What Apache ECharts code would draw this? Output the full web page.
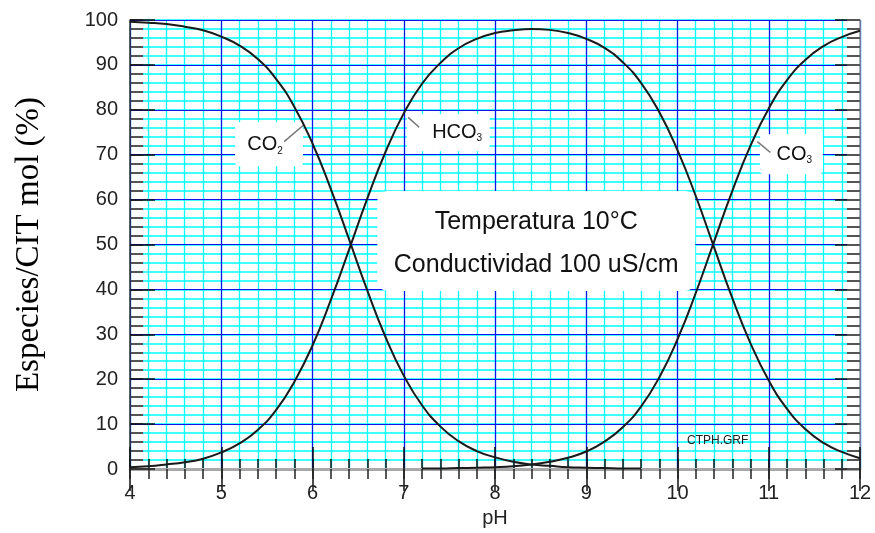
<!DOCTYPE html>
<html>
<head>
<meta charset="utf-8">
<script src="https://cdn.jsdelivr.net/npm/echarts@6/dist/echarts.min.js"></script>
<style>
html,body{margin:0;padding:0;background:#fff;}
#c{width:875px;height:533px;}
</style>
</head>
<body>
<div id="c"></div>
<script>
// pH values (x)
var pH = [4.0,4.2,4.4,4.6,4.8,5.0,5.2,5.4,5.6,5.8,6.0,6.2,6.4,6.6,6.8,7.0,7.2,7.4,7.6,7.8,8.0,8.2,8.4,8.6,8.8,9.0,9.2,9.4,9.6,9.8,10.0,10.2,10.4,10.6,10.8,11.0,11.2,11.4,11.6,11.8,12.0];
// species percentages (null = not drawn)
var co2  = [99.6,99.4,99.1,98.5,97.7,96.3,94.3,91.3,86.9,80.7,72.5,62.4,51.2,39.8,29.4,20.8,14.2,9.5,6.2,4.0,2.6,1.6,1.0,0.7,0.4,0.3,0.2,0.1,0.1,null,null,null,null,null,null,null,null,null,null,null,null];
var hco3 = [0.4,0.6,1.0,1.5,2.3,3.7,5.7,8.7,13.1,19.4,27.5,37.6,48.8,60.2,70.6,79.2,85.8,90.4,93.7,95.8,97.1,97.7,98.0,97.8,97.1,95.8,93.8,90.6,86.0,79.5,71.0,60.8,49.4,38.1,28.0,19.7,13.4,8.9,5.8,3.8,2.4];
var co3  = [null,null,null,null,null,null,null,null,null,null,null,null,null,null,null,null,0.1,0.1,0.2,0.3,0.4,0.6,1.0,1.6,2.5,3.9,6.1,9.3,13.9,20.4,28.9,39.2,50.6,61.9,72.0,80.3,86.6,91.1,94.2,96.2,97.6];
// axis ticks
var xTicks = [4,5,6,7,8,9,10,11,12];
var yTicks = [0,10,20,30,40,50,60,70,80,90,100];
var xMinorStep = 0.2, yMinorStep = 2;
// texts
var xName = 'pH';
var yName = 'Especies/CIT mol (%)';
var infoLines = ['Temperatura 10°C', 'Conductividad 100 uS/cm'];
var fileTag = 'CTPH.GRF';

function pairs(xs, ys){ return xs.map(function(x,i){ return [x, ys[i]]; }); }

var chart = echarts.init(document.getElementById('c'), null, {renderer:'canvas'});

var sans = '"Liberation Sans", Arial, sans-serif';
var xMin = xTicks[0], xMax = xTicks[xTicks.length-1];
var yMin = yTicks[0], yMax = yTicks[yTicks.length-1];

function xAx(o){
  return Object.assign({type:'value', min:xMin, max:xMax, axisLabel:{show:false}, splitLine:{show:false}, axisLine:{show:false}}, o);
}
function yAx(o){
  return Object.assign({type:'value', min:yMin, max:yMax, axisLabel:{show:false}, splitLine:{show:false}, axisLine:{show:false}}, o);
}

var opt = {
  animation:false,
  backgroundColor:'#fff',
  grid:{left:130, right:15, top:20, bottom:62},
  xAxis:[
    xAx({position:'bottom', interval:1, z:2,
      name:xName, nameLocation:'middle', nameGap:39,
      nameTextStyle:{fontFamily:sans, fontSize:20, color:'#222'},
      axisLine:{show:true, lineStyle:{color:'#888', width:2.5}},
      axisTick:{show:true, inside:true, length:22, lineStyle:{color:'#111', width:1.5}},
      axisLabel:{show:true, fontFamily:sans, fontSize:20, color:'#222', margin:14},
      splitLine:{show:true, lineStyle:{color:'#1010f0', width:1.2}}}),
    xAx({position:'bottom', interval:xMinorStep, z:1,
      axisTick:{show:true, inside:true, length:10, lineStyle:{color:'#111', width:1.5}},
      splitLine:{show:true, lineStyle:{color:'#00ffff', width:1.3}}}),
    xAx({position:'top', interval:1, z:2,
      axisLine:{show:true, lineStyle:{color:'#aaa', width:2}},
      axisTick:{show:true, inside:true, length:22, lineStyle:{color:'#111', width:1.5}}}),
    xAx({position:'top', interval:xMinorStep, z:2,
      axisTick:{show:true, inside:true, length:10, lineStyle:{color:'#222', width:1.5}}})
  ],
  yAxis:[
    yAx({position:'left', interval:10, z:2,
      name:yName, nameLocation:'middle', nameGap:84,
      nameTextStyle:{fontFamily:'"Liberation Serif","Times New Roman",serif', fontSize:33, color:'#000'},
      axisLine:{show:true, lineStyle:{color:'#333', width:1.5}},
      axisTick:{show:true, inside:true, length:25, lineStyle:{color:'#111', width:1.5}},
      axisLabel:{show:true, fontFamily:sans, fontSize:20, color:'#222', margin:12},
      splitLine:{show:true, lineStyle:{color:'#1010f0', width:1.2}}}),
    yAx({position:'left', interval:yMinorStep, z:1,
      axisTick:{show:true, inside:true, length:13, lineStyle:{color:'#555', width:2}},
      splitLine:{show:true, lineStyle:{color:'#00ffff', width:1.6}}}),
    yAx({position:'right', interval:10, z:2,
      axisLine:{show:true, lineStyle:{color:'#999', width:1.5}},
      axisTick:{show:true, inside:true, length:25, lineStyle:{color:'#111', width:1.5}}}),
    yAx({position:'right', interval:yMinorStep, z:2,
      axisTick:{show:true, inside:true, length:13, lineStyle:{color:'#555', width:2}}})
  ],
  series:[
    {name:'CO2', type:'line', data:pairs(pH,co2), smooth:true, showSymbol:false, z:5, connectNulls:false,
     lineStyle:{color:'#1a1a1a', width:2}},
    {name:'HCO3', type:'line', data:pairs(pH,hco3), smooth:true, showSymbol:false, z:5,
     lineStyle:{color:'#1a1a1a', width:2}},
    {name:'CO3', type:'line', data:pairs(pH,co3), smooth:true, showSymbol:false, z:5, connectNulls:false,
     lineStyle:{color:'#1a1a1a', width:2}}
  ]
};
chart.setOption(opt);

// annotations, placed in data coordinates
function px(x, y){ return chart.convertToPixel({gridIndex:0}, [x, y]); }
var annots = [
  {c:[5.524,72.3], w:68, h:44, t:[5.480,72.2], main:'CO', sub:'2', lead:[[5.689,72.9],[5.897,76.5]]},
  {c:[7.487,74.9], w:83, h:37, t:[7.585,74.9], main:'HCO', sub:'3', lead:[[7.169,76.1],[7.048,78.3]]},
  {c:[11.248,70.1], w:63, h:40, t:[11.281,70.1], main:'CO', sub:'3', lead:[[11.018,70.5],[10.875,72.9]]}
];
var g = [];
annots.forEach(function(a){
  var p = px(a.c[0], a.c[1]);
  var tp = px(a.t[0], a.t[1]);
  g.push({type:'rect', z:3, shape:{x:p[0]-a.w/2, y:p[1]-a.h/2, width:a.w, height:a.h, r:4}, style:{fill:'#fff'}});
  g.push({type:'text', z:4, x:tp[0], y:tp[1], style:{
    text:'{m|'+a.main+'}{s|'+a.sub+'}', align:'center', verticalAlign:'middle',
    rich:{m:{fontFamily:sans, fontSize:20, lineHeight:22, fill:'#111'},
          s:{fontFamily:sans, fontSize:10, lineHeight:10, verticalAlign:'bottom', fill:'#111'}}}});
  var l0 = px(a.lead[0][0], a.lead[0][1]), l1 = px(a.lead[1][0], a.lead[1][1]);
  g.push({type:'line', z:4, shape:{x1:l0[0], y1:l0[1], x2:l1[0], y2:l1[1]}, style:{stroke:'#777', lineWidth:1.5}});
});
var bc = px(8.452, 50.8);
g.push({type:'rect', z:3, shape:{x:bc[0]-159, y:bc[1]-50, width:318, height:100, r:10}, style:{fill:'#fff'}});
var t1 = px(8.452, 54.9), t2 = px(8.452, 45.4);
g.push({type:'text', z:4, x:t1[0], y:t1[1], style:{text:infoLines[0], align:'center', verticalAlign:'middle',
  fontFamily:sans, fontSize:25, fill:'#111'}});
g.push({type:'text', z:4, x:t2[0], y:t2[1], style:{text:infoLines[1], align:'center', verticalAlign:'middle',
  fontFamily:sans, fontSize:25, fill:'#111'}});
var ft = px(10.44, 6.2);
g.push({type:'text', z:4, x:ft[0], y:ft[1], style:{text:fileTag, align:'center', verticalAlign:'middle',
  fontFamily:sans, fontSize:12, fill:'#222'}});
chart.setOption({graphic:g});
</script>
</body>
</html>
